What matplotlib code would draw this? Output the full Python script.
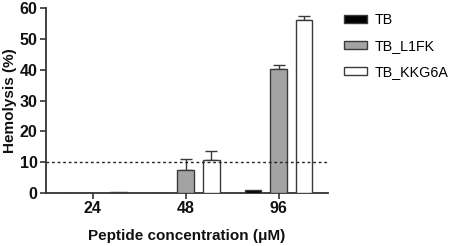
import matplotlib
matplotlib.use("Agg")
import matplotlib.pyplot as plt
import numpy as np

plt.rcParams['font.family'] = ['Liberation Sans', 'DejaVu Sans']

concentrations = ["24", "48", "96"]
series_names = ["TB", "TB_L1FK", "TB_KKG6A"]
tb = [0.0, 0.0, 0.9]
tb_l1fk = [0.0, 7.6, 40.3]
tb_kkg6a = [0.3, 10.7, 56.3]
err_tb = [0.0, 0.0, 0.0]
err_l1fk = [0.0, 3.4, 1.3]
err_kkg6a = [0.0, 2.8, 1.1]
threshold = 10

values = [tb, tb_l1fk, tb_kkg6a]
errors = [err_tb, err_l1fk, err_kkg6a]
colors = ["#000000", "#a3a3a3", "#ffffff"]
edge = "#3a3a3a"

fig = plt.figure(figsize=(4.54, 2.46), dpi=100)
ax = fig.add_axes([0.101, 0.215, 0.621, 0.752])

x = np.arange(len(concentrations))
offsets = [-0.275, 0.0, 0.275]
width = 0.18
handles = []
for vals, errs, col, off, name in zip(values, errors, colors, offsets, series_names):
    b = ax.bar(x + off, vals, width, color=col, edgecolor=edge, linewidth=1.0, label=name, zorder=3)
    handles.append(b)
    for xi, v, e in zip(x + off, vals, errs):
        if e > 0:
            ax.errorbar([xi], [v], yerr=[[0], [e]], fmt='none', ecolor=edge, elinewidth=1.0,
                        capsize=4, capthick=1.0, zorder=2)

ax.axhline(threshold, color="#222222", linestyle=(0, (2, 2)), linewidth=1.0, zorder=4)

ax.set_xlim(-0.505, 2.53)
ax.set_ylim(0, 60)
ax.set_yticks([0, 10, 20, 30, 40, 50, 60])
ax.set_xticks(x)
ax.set_xticklabels(concentrations)
for s in ["top", "right"]:
    ax.spines[s].set_visible(False)
for s in ["left", "bottom"]:
    ax.spines[s].set_color("#333333")
    ax.spines[s].set_linewidth(1.3)
ax.tick_params(axis='both', colors="#333333", width=1.2, length=4, labelsize=11.5, labelcolor="#111111", pad=2)
for lab in ax.get_xticklabels() + ax.get_yticklabels():
    lab.set_fontweight('bold')
ax.set_ylabel("Hemolysis (%)", fontsize=11, fontweight='bold', color="#111111", labelpad=2)
ax.set_xlabel("Peptide concentration (\u03bcM)", fontsize=11, fontweight='bold', color="#111111", labelpad=9)

leg = fig.legend(handles=handles, labels=series_names, loc='upper left', bbox_to_anchor=(0.748, 0.965),
                 frameon=False, fontsize=10.3, handlelength=1.6, handleheight=0.55, labelspacing=0.85,
                 handletextpad=0.55, borderaxespad=0.0, borderpad=0.3)

fig.savefig("out.png", dpi=100)
